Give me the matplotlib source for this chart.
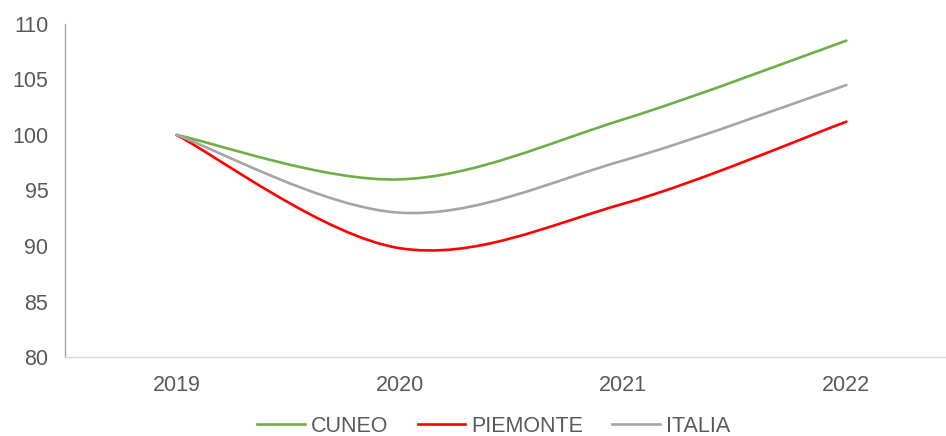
import numpy as np
import matplotlib
matplotlib.use("Agg")
from matplotlib import pyplot as plt
from matplotlib.path import Path
from matplotlib.patches import PathPatch
from matplotlib.lines import Line2D

# chart data (index, 2019 = 100)
years = ['2019', '2020', '2021', '2022']
cuneo = [100.0, 96.0, 101.4, 108.5]
piemonte = [100.0, 89.8, 93.8, 101.2]
italia = [100.0, 93.0, 97.7, 104.5]

series = [('CUNEO', cuneo, '#70AD47'),
          ('PIEMONTE', piemonte, '#FF0000'),
          ('ITALIA', italia, '#A5A5A5')]

plt.rcParams['font.family'] = ['Liberation Sans', 'DejaVu Sans']
text_color = '#595959'


def smooth_path(xs, ys):
    """Excel-like smoothed line: cubic bezier through the points (Catmull-Rom)."""
    pts = np.column_stack([xs, ys]).astype(float)
    n = len(pts)
    verts = [pts[0]]
    codes = [Path.MOVETO]
    for i in range(n - 1):
        p0 = pts[i - 1] if i > 0 else pts[i]
        p1 = pts[i]
        p2 = pts[i + 1]
        p3 = pts[i + 2] if i + 2 < n else pts[i + 1]
        c1 = p1 + (p2 - p0) / 6.0
        c2 = p2 - (p3 - p1) / 6.0
        verts += [c1, c2, p2]
        codes += [Path.CURVE4] * 3
    return Path(verts, codes)


fig = plt.figure(figsize=(9.46, 4.36), dpi=100)
ax = fig.add_axes([65 / 946, 1 - 357 / 436, 893 / 946, (357 - 24) / 436])

x = np.arange(len(years))
handles = []
for name, vals, color in series:
    patch = PathPatch(smooth_path(x, vals), facecolor='none', edgecolor=color,
                      linewidth=1.9, capstyle='round', joinstyle='round')
    ax.add_patch(patch)
    handles.append(Line2D([], [], color=color, linewidth=1.9, label=name))

ax.set_xlim(-0.5, 3.5)
ax.set_ylim(80, 110)
ax.set_yticks(range(80, 111, 5))
ax.set_xticks(x)
ax.set_xticklabels(years)
ax.tick_params(length=0, labelsize=15.5, colors=text_color)
ax.tick_params(axis='x', pad=13)
ax.tick_params(axis='y', pad=12)

for side in ['top', 'right']:
    ax.spines[side].set_visible(False)
ax.spines['left'].set_color('#A6A6A6')
ax.spines['bottom'].set_color('#D9D9D9')
ax.spines['left'].set_linewidth(1.0)
ax.spines['bottom'].set_linewidth(1.0)

fig.legend(handles=handles, loc='center', bbox_to_anchor=(0.522, 1 - 426 / 436),
           ncol=3, frameon=False, fontsize=15.5, handlelength=2.2,
           columnspacing=1.35, handletextpad=0.3, labelcolor=text_color,
           borderpad=0.1)

fig.savefig('out.png', dpi=100)
